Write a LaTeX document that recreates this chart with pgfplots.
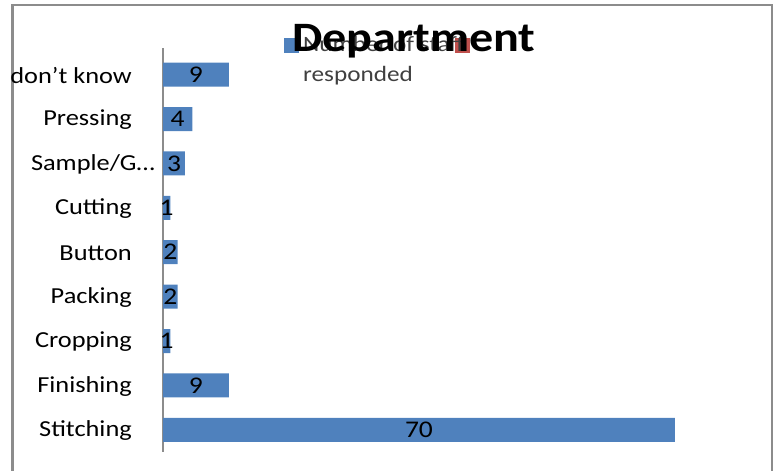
\documentclass[border=0pt]{standalone}
\usepackage{pgfplots}
\pgfplotsset{compat=1.18}
\usepackage{fontspec}
\setmainfont[FakeStretch=1.15]{Carlito}
\definecolor{barblue}{HTML}{4F81BD}
\definecolor{barred}{HTML}{C0504D}
\definecolor{framegray}{HTML}{8C8C8C}
\begin{document}
\begin{tikzpicture}[x=1bp,y=1bp]
\path[use as bounding box] (0,0) rectangle (778,471);
\draw[color=framegray, line width=2.5bp] (12.5,0) -- (12.5,466) -- (772,466) -- (772,0);
\begin{axis}[
  at={(163bp,19bp)}, anchor=south west,
  scale only axis, width=585bp, height=404bp,
  xmin=0, xmax=80, ymin=-0.5, ymax=8.6,
  hide x axis,
  axis y line*=left,
  y axis line style={draw=framegray, line width=2bp},
  ytick={0,1,2,3,4,5,6,7,8},
  yticklabels={Stitching,Finishing,Cropping,Packing,Button,Cutting,Sample/G…\hspace*{-23bp},Pressing,don’t know},
  major tick length=0pt,
  yticklabel style={anchor=east, inner sep=0pt, xshift=-31bp, yshift=-1bp, font=\fontsize{23}{25}\selectfont, text=black},
  /pgf/number format/assume math mode=true,
  clip=false,
]
\addplot[xbar, bar width=24bp, fill=barblue, draw=none] coordinates {
  (70,0) (9,1) (1,2) (2,3) (2,4) (1,5) (3,6) (4,7) (9,8)
};
\addplot[draw=none, mark=none, nodes near coords, point meta=explicit,
  every node near coord/.append style={anchor=center, font=\fontsize{24}{26}\selectfont, text=black, inner sep=0pt}]
  table[x expr=\thisrow{v}/2, y=y, meta=v] {
  v y
  70 0
  9 1
  1 2
  2 3
  2 4
  1 5
  3 6
  4 7
  9 8
};
\end{axis}
\fill[barblue] (284,418) rectangle (299,433);
\fill[barred] (455,418) rectangle (470,433);
\node[anchor=base west, inner sep=0pt, text=black!75, font=\fontsize{22}{24}\selectfont] at (303,419) {Number of staff};
\node[anchor=base west, inner sep=0pt, text=black!75, font=\fontsize{22}{24}\selectfont] at (303,389) {responded};
\node[anchor=base, inner sep=0pt, font=\fontsize{42}{44}\selectfont\bfseries] at (414,419) {Department};
\end{tikzpicture}
\end{document}
